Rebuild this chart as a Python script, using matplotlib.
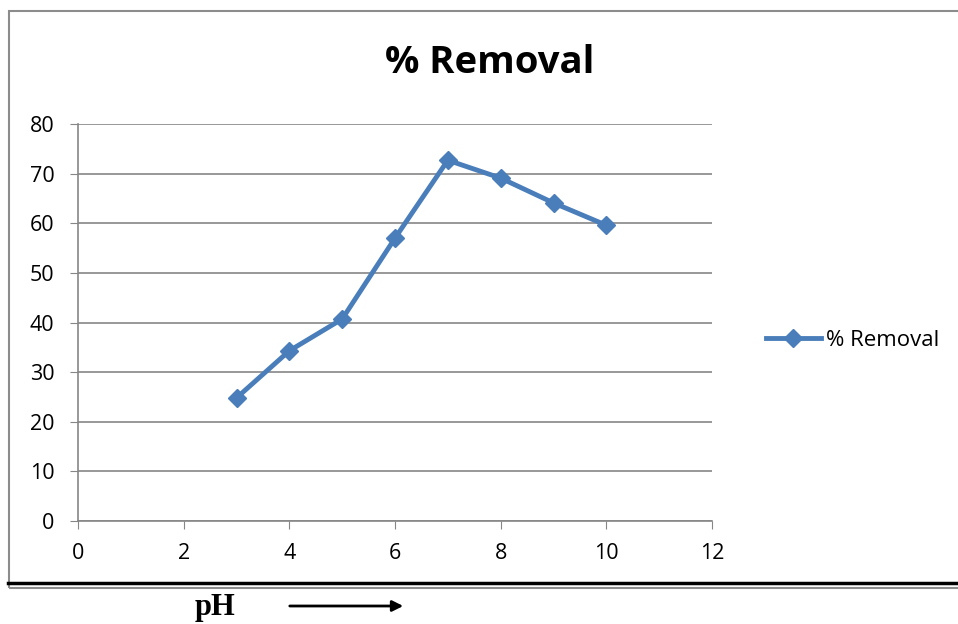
import matplotlib
matplotlib.use("Agg")
import matplotlib.pyplot as plt
from matplotlib.lines import Line2D
from matplotlib.patches import Rectangle, FancyArrowPatch

# data
ph = [3, 4, 5, 6, 7, 8, 9, 10]
removal = [24.8, 34.3, 40.7, 57.0, 72.7, 69.1, 64.1, 59.6]
x_ticks = [0, 2, 4, 6, 8, 10, 12]
y_ticks = [0, 10, 20, 30, 40, 50, 60, 70, 80]

blue = "#4a7ebb"
grid = "#868686"
plt.rcParams["font.family"] = ["Open Sans", "DejaVu Sans"]

fig = plt.figure(figsize=(9.58, 6.24), dpi=100)
W, H = 958, 624

# outer chart frame (gray) and the black rule under it
fig.add_artist(Rectangle((9 / W, 1 - 588 / H), 1.0, (588 - 11) / H,
                         transform=fig.transFigure, fill=False,
                         edgecolor="#8c8c8c", lw=1.5))
fig.add_artist(Line2D([8 / W, 1.0], [1 - 583 / H] * 2,
                      transform=fig.transFigure, color="black", lw=2.5))

ax = fig.add_axes([78 / W, 1 - 521 / H, (712 - 78) / W, (521 - 124) / H])
ax.plot(ph, removal, color=blue, lw=3.5, marker="D", ms=9,
        label="% Removal")
ax.set_xlim(0, 12)
ax.set_ylim(0, 80)
ax.set_xticks(x_ticks)
ax.set_yticks(y_ticks)
ax.tick_params(labelsize=15.5, length=6, color=grid)
ax.tick_params(axis="y", pad=11)
ax.tick_params(axis="x", pad=10)
ax.yaxis.grid(True, color=grid, lw=1.2)
ax.set_axisbelow(True)
for s in ("top", "right"):
    ax.spines[s].set_visible(False)
for s in ("left", "bottom"):
    ax.spines[s].set_color(grid)
    ax.spines[s].set_linewidth(1.2)

fig.text(490 / W, 1 - 63 / H, "% Removal", ha="center", va="center",
         fontsize=27.5, fontweight="bold")

ax.legend(loc="center left", bbox_to_anchor=(1.053, 0.455), frameon=False,
          fontsize=16, handlelength=2.5, handletextpad=0.2)

# pH label and arrow below the chart
fig.text(215 / W, 1 - 607 / H, "pH", ha="center", va="center",
         fontsize=22, fontweight="bold", family="Liberation Serif")
fig.add_artist(FancyArrowPatch(
    (287 / W, 1 - 606 / H), (406 / W, 1 - 606 / H),
    transform=fig.transFigure, arrowstyle="-|>", mutation_scale=16,
    color="black", lw=2))

fig.savefig("out.png", dpi=100)
